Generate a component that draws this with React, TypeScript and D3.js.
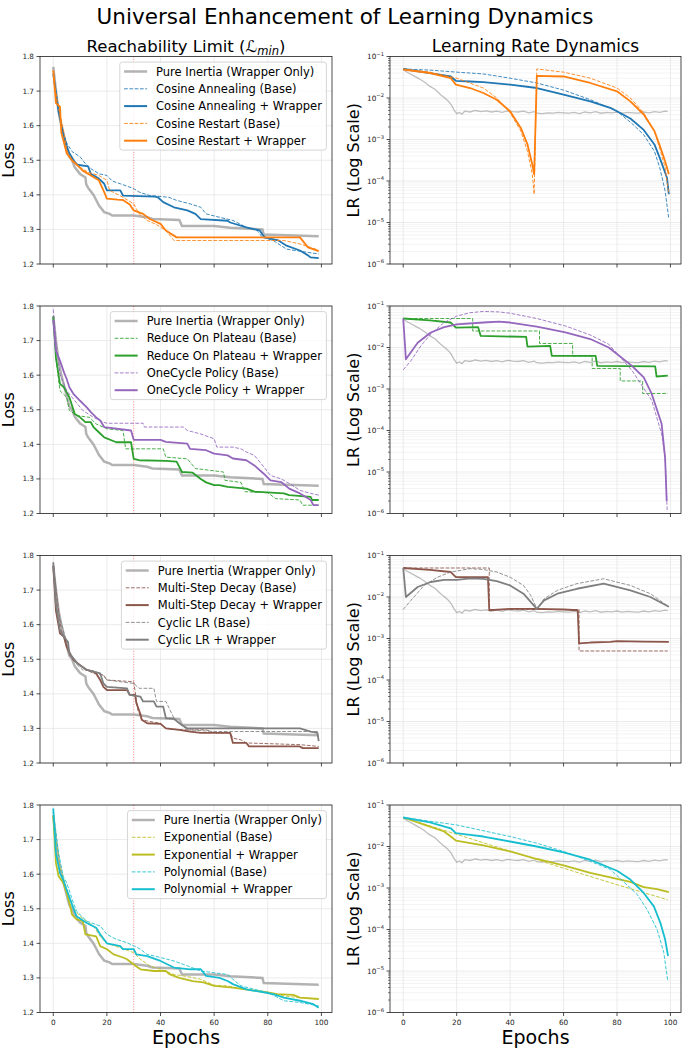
import * as d3 from "d3";

type Pt = [number, number];

// ---- axis ticks ----
const epochTicks = [0, 20, 40, 60, 80, 100];
const lossTicks = [1.2, 1.3, 1.4, 1.5, 1.6, 1.7, 1.8];
const lrTickExps = [-6, -5, -4, -3, -2, -1];
const rowLegendLabels = [
  ["Pure Inertia (Wrapper Only)", "Cosine Annealing (Base)", "Cosine Annealing + Wrapper", "Cosine Restart (Base)", "Cosine Restart + Wrapper"],
  ["Pure Inertia (Wrapper Only)", "Reduce On Plateau (Base)", "Reduce On Plateau + Wrapper", "OneCycle Policy (Base)", "OneCycle Policy + Wrapper"],
  ["Pure Inertia (Wrapper Only)", "Multi-Step Decay (Base)", "Multi-Step Decay + Wrapper", "Cyclic LR (Base)", "Cyclic LR + Wrapper"],
  ["Pure Inertia (Wrapper Only)", "Exponential (Base)", "Exponential + Wrapper", "Polynomial (Base)", "Polynomial + Wrapper"],
];
const rowColors = [
  ["#1f77b4", "#ff7f0e"],
  ["#2ca02c", "#9467bd"],
  ["#8c564b", "#7f7f7f"],
  ["#bcbd22", "#17becf"],
];

// ---- loss (reachability limit) ----
const pureLoss: Pt[] = [[0,1.77],[1,1.7],[2,1.64],[3,1.6],[4,1.57],[5,1.54],[6,1.51],[7,1.5],[8,1.48],[9,1.47],[10,1.46],[11,1.455],[12,1.45],[12.3,1.43],[13,1.42],[14,1.41],[15,1.4],[16,1.385],[17,1.37],[18,1.36],[19,1.35],[21,1.345],[22,1.34],[30,1.34],[35,1.335],[37,1.33],[47,1.327],[48,1.31],[60,1.31],[66,1.305],[78,1.3],[78.5,1.285],[99,1.28]];

const cosAnnBaseLoss: Pt[] = [[0,1.75],[2,1.64],[4,1.57],[5,1.55],[7,1.525],[10,1.51],[12,1.49],[14,1.476],[17,1.461],[20,1.456],[22,1.44],[25,1.432],[30,1.418],[32,1.408],[36,1.398],[43,1.393],[46,1.384],[51,1.374],[55,1.364],[57,1.345],[62,1.335],[67,1.326],[72,1.306],[76,1.297],[78,1.277],[82,1.268],[87,1.243],[92,1.237],[99,1.229]];
const cosAnnWrapLoss: Pt[] = [[0,1.75],[2,1.64],[3.7,1.578],[5,1.54],[6,1.52],[8,1.495],[9,1.487],[13,1.482],[14,1.461],[17,1.447],[19,1.432],[20,1.413],[25,1.413],[26,1.398],[38,1.395],[39,1.393],[41,1.379],[45,1.364],[50,1.355],[53,1.345],[55,1.33],[65,1.325],[66,1.32],[72,1.306],[77,1.297],[78,1.285],[79,1.277],[83,1.27],[84,1.268],[87,1.253],[92,1.239],[95,1.225],[96,1.219],[99,1.217]];
const cosResBaseLoss: Pt[] = [[0,1.74],[2,1.65],[4,1.58],[5,1.53],[7,1.5],[10,1.48],[13,1.465],[17,1.456],[20,1.442],[21,1.413],[26,1.393],[30,1.374],[32,1.345],[35,1.326],[38,1.316],[42,1.297],[45,1.268],[86,1.268],[92,1.258],[96,1.248],[99,1.24]];
const cosResWrapLoss: Pt[] = [[0,1.76],[1,1.665],[2.5,1.655],[3,1.58],[5,1.52],[7,1.5],[9,1.485],[11,1.47],[14,1.456],[17,1.442],[19,1.408],[20,1.389],[24,1.386],[26,1.385],[28.5,1.372],[30,1.355],[33.5,1.345],[36,1.33],[40,1.316],[42,1.297],[46,1.277],[92,1.277],[95,1.248],[99,1.237]];

const ropBaseLoss: Pt[] = [[0,1.77],[1,1.65],[2.5,1.555],[5,1.536],[6,1.498],[9,1.483],[13.5,1.478],[16,1.459],[20,1.445],[26,1.44],[27,1.387],[41,1.387],[42,1.363],[50,1.358],[53,1.33],[63.5,1.32],[64,1.296],[70,1.29],[71.5,1.263],[80,1.26],[83,1.243],[92,1.239],[93,1.224],[99,1.224]];
const ropWrapLoss: Pt[] = [[0,1.77],[1,1.65],[2.5,1.575],[4,1.565],[6,1.536],[8,1.488],[10,1.478],[12,1.464],[14,1.464],[15,1.45],[17,1.435],[19,1.42],[23.5,1.406],[29,1.406],[30,1.358],[32,1.354],[42,1.352],[46,1.35],[48,1.32],[52,1.318],[55,1.3],[57,1.29],[60,1.282],[62,1.282],[65,1.277],[72,1.272],[75,1.263],[86,1.258],[88,1.253],[96,1.248],[96.5,1.239],[99,1.239]];
const ocBaseLoss: Pt[] = [[0,1.79],[1,1.7],[2.5,1.603],[5,1.555],[7.5,1.531],[11,1.498],[15,1.478],[18.7,1.464],[20,1.461],[33.5,1.461],[34,1.45],[48.5,1.45],[50,1.44],[55,1.43],[60,1.416],[61,1.392],[67,1.392],[70,1.387],[72,1.378],[75,1.368],[78.5,1.335],[81,1.31],[85,1.3],[88,1.287],[92,1.267],[96,1.258],[99,1.253]];
const ocWrapLoss: Pt[] = [[0,1.76],[1,1.67],[2.5,1.642],[4,1.608],[5,1.589],[6,1.565],[7.5,1.546],[10,1.526],[12.5,1.507],[14,1.493],[16,1.478],[17.5,1.469],[19,1.45],[29,1.44],[30,1.413],[40,1.413],[42,1.407],[50,1.402],[51,1.387],[57,1.383],[60,1.373],[65,1.368],[67,1.359],[72,1.354],[75,1.339],[78.5,1.315],[81,1.296],[85,1.291],[88,1.272],[92,1.258],[96,1.239],[97,1.224],[99,1.224]];

const msBaseLoss: Pt[] = [[0,1.77],[2,1.64],[3,1.584],[4,1.565],[6,1.512],[9,1.488],[12.5,1.469],[15,1.459],[18.7,1.455],[20,1.44],[30,1.435],[31.5,1.354],[33,1.325],[36,1.32],[40,1.315],[42,1.3],[47,1.296],[57,1.296],[60,1.287],[66,1.287],[67,1.272],[70,1.267],[72,1.258],[92,1.253],[99,1.248]];
const msWrapLoss: Pt[] = [[0,1.77],[1,1.64],[2.5,1.575],[4,1.565],[5,1.536],[7.5,1.498],[10,1.483],[12.5,1.469],[15,1.464],[16,1.459],[17.5,1.44],[18.7,1.42],[20,1.411],[27.5,1.411],[28.5,1.397],[30.5,1.397],[31,1.373],[32.4,1.344],[33,1.325],[35,1.315],[40,1.313],[42,1.3],[47,1.296],[51,1.291],[55,1.287],[66,1.287],[67,1.258],[72,1.258],[73,1.248],[92,1.248],[93,1.243],[99,1.243]];
const cycBaseLoss: Pt[] = [[0,1.78],[2,1.632],[4,1.575],[6,1.517],[9,1.483],[11,1.469],[15,1.466],[17.5,1.459],[19,1.45],[20,1.44],[30,1.43],[32,1.416],[37.5,1.416],[38.5,1.378],[42,1.378],[43.5,1.354],[45,1.33],[47,1.315],[50,1.296],[60,1.291],[99,1.291]];
const cycWrapLoss: Pt[] = [[0,1.78],[1,1.66],[2.5,1.584],[4,1.565],[5.5,1.55],[6,1.517],[9,1.488],[12.5,1.469],[17.5,1.459],[18.7,1.43],[20,1.42],[27.5,1.416],[28.5,1.397],[32.5,1.392],[33.5,1.378],[37.5,1.378],[38.5,1.363],[41,1.363],[42,1.33],[45,1.328],[47,1.315],[50,1.3],[92,1.3],[96,1.291],[98.5,1.287],[99,1.263]];

const expBaseLoss: Pt[] = [[0,1.77],[1,1.7],[2.5,1.622],[5,1.555],[7.5,1.502],[10,1.478],[12.5,1.464],[15,1.45],[17.5,1.42],[20,1.4],[25,1.387],[30,1.373],[32.5,1.354],[36,1.335],[40,1.325],[45,1.31],[50,1.304],[55,1.296],[60,1.279],[65,1.277],[70,1.269],[75,1.263],[80,1.258],[86,1.248],[92,1.243],[99,1.239]];
const expWrapLoss: Pt[] = [[0,1.77],[1,1.632],[2,1.594],[3.7,1.575],[5,1.546],[6,1.517],[7,1.483],[8.7,1.469],[11,1.464],[12,1.426],[16,1.42],[17.5,1.392],[20,1.383],[22.5,1.368],[26,1.359],[27.5,1.354],[30,1.339],[32.5,1.325],[37.5,1.32],[42,1.32],[43.5,1.31],[47,1.3],[52,1.291],[56,1.287],[60,1.277],[67,1.272],[75,1.263],[80,1.258],[83.5,1.253],[89.5,1.251],[92,1.243],[99,1.239]];
const polyBaseLoss: Pt[] = [[0,1.78],[2,1.66],[3.7,1.594],[5,1.575],[7.5,1.517],[8.7,1.493],[12.5,1.464],[17.5,1.45],[20,1.426],[23.7,1.411],[27.5,1.402],[32.5,1.383],[35,1.368],[40,1.359],[45,1.349],[50,1.335],[55,1.32],[60,1.315],[65,1.31],[67,1.296],[70,1.277],[75,1.267],[80,1.258],[86,1.234],[92,1.229],[99,1.219]];
const polyWrapLoss: Pt[] = [[0,1.79],[1,1.66],[2.5,1.603],[3.7,1.584],[5,1.555],[7,1.512],[8.7,1.478],[12.5,1.459],[16,1.445],[17.5,1.426],[20,1.4],[25,1.392],[26,1.383],[30,1.383],[31,1.368],[35,1.363],[40,1.349],[45,1.33],[51,1.325],[55,1.325],[57,1.306],[62,1.3],[65,1.291],[67,1.282],[72,1.267],[78.5,1.258],[82,1.253],[86,1.243],[92,1.234],[97,1.224],[99,1.214]];

// ---- learning rate ----
const pureLR: Pt[] = [[0,0.048],[2,0.04],[4,0.034],[6,0.029],[8,0.024],[10,0.019],[12,0.016],[14,0.012],[16,0.0095],[17,0.0082],[18,0.0068],[19,0.0052],[20,0.0042],[21,0.0045],[22,0.0041],[23,0.0048],[25,0.0046],[27,0.005],[29,0.0047],[31,0.0049],[33,0.0046],[35,0.0048],[37,0.0045],[39,0.0049],[41,0.0047],[43,0.0046],[45,0.0048],[47,0.0044],[49,0.0047],[50,0.0043],[52,0.0042],[54,0.0044],[56,0.0043],[58,0.0045],[60,0.0044],[62,0.0043],[64,0.0045],[66,0.0042],[68,0.0046],[70,0.0044],[72,0.0047],[74,0.0043],[76,0.0045],[78,0.0044],[80,0.0046],[82,0.0043],[84,0.0045],[86,0.0044],[88,0.0043],[90,0.0046],[92,0.0044],[94,0.0047],[96,0.0045],[98,0.0048],[99,0.0047]];

const cosAnnBaseLR: Pt[] = [[0,0.05],[10,0.047],[20,0.042],[30,0.038],[40,0.03],[50,0.023],[60,0.0155],[70,0.0091],[80,0.0048],[86,0.0023],[90,0.0013],[94,0.00052],[96,0.00021],[98,0.000058],[99.4,0.000012]];
const cosAnnWrapLR: Pt[] = [[0,0.05],[10,0.04],[17.8,0.033],[19.7,0.026],[25,0.025],[30,0.024],[40,0.021],[50,0.0174],[60,0.012],[70,0.0083],[77.5,0.0058],[80,0.0048],[85,0.0032],[90,0.0017],[94,0.00076],[96,0.00036],[98.7,0.00012],[99.4,0.000048]];
const cosResBaseLR: Pt[] = [[0,0.05],[10,0.042],[20,0.03],[30,0.0174],[35,0.01],[40,0.0044],[44,0.0016],[46.5,0.00052],[48.3,0.000145],[49,0.000048],[50,0.05],[60,0.042],[70,0.03],[80,0.0174],[85,0.01],[90,0.0044],[94,0.0016],[96.3,0.00052],[98,0.00021],[99.4,0.000048]];
const cosResWrapLR: Pt[] = [[0,0.048],[10,0.04],[17.8,0.03],[19.7,0.021],[25,0.0174],[30,0.0132],[35,0.0091],[40,0.0048],[44,0.0019],[46.5,0.00076],[48.3,0.00025],[49,0.000145],[50,0.0343],[60,0.033],[70,0.023],[80,0.0145],[85,0.0083],[90,0.004],[94,0.0016],[96.3,0.00063],[98,0.0003],[99.4,0.000145]];

const ropBaseLR: Pt[] = [[0,0.05],[26,0.05],[26,0.025],[51,0.025],[51,0.0125],[63.4,0.0125],[63.4,0.00625],[70.7,0.00625],[70.7,0.003125],[81.2,0.003125],[81.2,0.0015625],[89.6,0.0015625],[89.6,0.00078],[99,0.00078]];
const ropWrapLR: Pt[] = [[0,0.05],[10,0.045],[17.8,0.04],[19.7,0.03],[28,0.031],[29,0.019],[46,0.018],[46.5,0.0105],[55,0.011],[55.6,0.0063],[72,0.0063],[72.6,0.0036],[94.3,0.0035],[94.8,0.002],[99,0.0021]];
const ocBaseLR: Pt[] = [[0,0.0029],[2.9,0.0048],[6.6,0.011],[10.3,0.021],[15.3,0.04],[20,0.057],[25,0.069],[30,0.074],[35.8,0.072],[40,0.067],[50,0.05],[60.7,0.033],[70,0.02],[76.9,0.012],[85.6,0.0028],[93,0.00053],[96.7,0.000083],[98,0.000023],[98.8,0.0000011]];
const ocWrapLR: Pt[] = [[0,0.05],[1,0.0052],[5.4,0.013],[10.3,0.023],[15.3,0.031],[20,0.036],[30,0.04],[35.8,0.042],[40,0.04],[50,0.032],[60.7,0.023],[70,0.016],[76.9,0.01],[85.6,0.0036],[90,0.0019],[93,0.00076],[96.7,0.000145],[98,0.000022],[98.6,0.000002]];

const msBaseLR: Pt[] = [[0,0.05],[32.2,0.05],[32.2,0.005],[65.8,0.005],[65.8,0.0005],[99,0.0005]];
const msWrapLR: Pt[] = [[0,0.05],[10,0.045],[17.8,0.04],[19.7,0.03],[31.7,0.03],[32.2,0.0048],[40,0.0052],[50,0.0052],[60,0.005],[65.3,0.0048],[65.8,0.00076],[70,0.0008],[77.5,0.00083],[80,0.00086],[90,0.00084],[99.4,0.00083]];
const cycBaseLR: Pt[] = [[0,0.005],[2.9,0.0083],[7.8,0.019],[12.8,0.03],[17.8,0.04],[25,0.048],[30,0.046],[35,0.04],[40,0.03],[45,0.019],[47.7,0.011],[50,0.0052],[52.7,0.009],[57.7,0.0145],[65,0.021],[75,0.0275],[85,0.019],[92.5,0.012],[99.4,0.0058]];
const cycWrapLR: Pt[] = [[0,0.05],[1,0.01],[5.4,0.0174],[10.3,0.023],[15.3,0.026],[20,0.026],[25,0.028],[30,0.0275],[35,0.024],[40,0.019],[45,0.012],[50,0.0052],[52.7,0.0083],[57.7,0.012],[65,0.0158],[75,0.021],[85,0.0145],[92.5,0.01],[99.4,0.0058]];

const expBaseLR: Pt[] = [[0,0.05],[20,0.0197],[40,0.0077],[60,0.003],[80,0.0012],[99,0.00052]];
const expWrapLR: Pt[] = [[0,0.05],[10,0.03],[15.3,0.023],[17.8,0.0174],[19.7,0.0139],[30,0.0106],[40,0.0076],[50,0.005],[60,0.0035],[70,0.0023],[80,0.00165],[85,0.0014],[90,0.00105],[95,0.00094],[99.4,0.0008]];
const polyBaseLR: Pt[] = [[0,0.05],[20,0.033],[40,0.0174],[50,0.012],[60,0.0076],[70,0.0044],[77.5,0.0028],[82.6,0.0014],[87.6,0.00069],[91.3,0.0003],[95,0.0001],[97.5,0.000028],[99,0.0000058]];
const polyWrapLR: Pt[] = [[0,0.05],[10,0.038],[17.8,0.0275],[19.7,0.021],[25,0.019],[30,0.0174],[40,0.0132],[50,0.01],[60,0.0072],[70,0.0048],[80,0.0026],[85,0.0016],[90,0.00076],[93.8,0.00036],[96.3,0.00014],[98,0.000058],[99.1,0.000023]];

const rowLoss = [
  [cosAnnBaseLoss, cosAnnWrapLoss, cosResBaseLoss, cosResWrapLoss],
  [ropBaseLoss, ropWrapLoss, ocBaseLoss, ocWrapLoss],
  [msBaseLoss, msWrapLoss, cycBaseLoss, cycWrapLoss],
  [expBaseLoss, expWrapLoss, polyBaseLoss, polyWrapLoss],
];
const rowLR = [
  [cosAnnBaseLR, cosAnnWrapLR, cosResBaseLR, cosResWrapLR],
  [ropBaseLR, ropWrapLR, ocBaseLR, ocWrapLR],
  [msBaseLR, msWrapLR, cycBaseLR, cycWrapLR],
  [expBaseLR, expWrapLR, polyBaseLR, polyWrapLR],
];

const FONT = "DejaVu Sans, Verdana, sans-serif";
const W = 690;
const H = 1052;
const LEFT = [40, 332];
const RIGHT = [390, 681];
const ROW_TOP = [56.5, 306, 555.5, 805];
const ROW_H = 207.5;
const TICK = "#222";
const GRID = "#e6e6e6";

let measureCtx: CanvasRenderingContext2D | null = null;
function textWidth(s: string, size: number) {
  if (!measureCtx) measureCtx = document.createElement("canvas").getContext("2d");
  if (!measureCtx) return s.length * size * 0.6;
  measureCtx.font = `${size}px ${FONT}`;
  return measureCtx.measureText(s).width;
}

function styleFor(k: number, colors: string[]) {
  // k: 0 base A, 1 wrap A, 2 base B, 3 wrap B
  const color = colors[k < 2 ? 0 : 1];
  const dashed = k % 2 === 0;
  return { color, dashed };
}

function LossPanel({ row }: { row: number }) {
  const top = ROW_TOP[row];
  const bottom = top + ROW_H;
  const x = d3.scaleLinear().domain([-4.95, 103.95]).range(LEFT);
  const y = d3.scaleLinear().domain([1.2, 1.8]).range([bottom, top]);
  const line = d3.line<Pt>().x((d) => x(d[0])).y((d) => y(d[1]));
  const clipId = `clipL${row}`;
  const colors = rowColors[row];
  const labels = rowLegendLabels[row];
  const last = row === 3;

  // legend geometry
  const fs = 11.5;
  const maxW = d3.max(labels, (s) => textWidth(s, fs)) ?? 160;
  const legW = 4.3 + 23 + 9 + maxW + 4.5;
  const legR = LEFT[1] - 5.6;
  const legT = top + 5.6;
  const legL = legR - legW;
  const legendItems = labels.map((lab, i) => {
    if (i === 0) return { lab, color: "gray", w: 2.5, dash: undefined as string | undefined, op: 0.6 };
    const { color, dashed } = styleFor(i - 1, colors);
    return { lab, color, w: dashed ? 1 : 2, dash: dashed ? "3.7,1.6" : undefined, op: dashed ? 0.85 : 1 };
  });

  return (
    <g>
      <defs>
        <clipPath id={clipId}>
          <rect x={LEFT[0]} y={top} width={LEFT[1] - LEFT[0]} height={ROW_H} />
        </clipPath>
      </defs>
      {epochTicks.map((t) => (
        <line key={"gx" + t} x1={x(t)} x2={x(t)} y1={top} y2={bottom} stroke={GRID} strokeWidth={0.8} />
      ))}
      {lossTicks.map((t) => (
        <line key={"gy" + t} x1={LEFT[0]} x2={LEFT[1]} y1={y(t)} y2={y(t)} stroke={GRID} strokeWidth={0.8} />
      ))}
      <g clipPath={`url(#${clipId})`}>
        <line x1={x(30)} x2={x(30)} y1={top} y2={bottom} stroke="red" strokeOpacity={0.5} strokeWidth={1} strokeDasharray="1,1.65" />
        <path d={line(pureLoss) ?? ""} fill="none" stroke="gray" strokeOpacity={0.6} strokeWidth={2.5} />
        {rowLoss[row].map((data, k) => {
          const { color, dashed } = styleFor(k, colors);
          return (
            <path
              key={k}
              d={line(data) ?? ""}
              fill="none"
              stroke={color}
              strokeWidth={dashed ? 1 : 1.8}
              strokeOpacity={dashed ? 0.85 : 1}
              strokeDasharray={dashed ? "3.7,1.6" : undefined}
              strokeLinejoin="round"
            />
          );
        })}
      </g>
      <rect x={LEFT[0]} y={top} width={LEFT[1] - LEFT[0]} height={ROW_H} fill="none" stroke="#222" strokeWidth={0.8} />
      {lossTicks.map((t) => (
        <g key={"ty" + t}>
          <line x1={LEFT[0] - 3.5} x2={LEFT[0]} y1={y(t)} y2={y(t)} stroke="#222" strokeWidth={0.8} />
          <text x={LEFT[0] - 6} y={y(t)} dy="0.35em" textAnchor="end" fontSize={7.3} fill={TICK} fontFamily={FONT}>
            {t.toFixed(1)}
          </text>
        </g>
      ))}
      {epochTicks.map((t) => (
        <g key={"tx" + t}>
          <line x1={x(t)} x2={x(t)} y1={bottom} y2={bottom + 3.5} stroke="#222" strokeWidth={0.8} />
          {last && (
            <text x={x(t)} y={bottom + 12.5} textAnchor="middle" fontSize={7.3} fill={TICK} fontFamily={FONT}>
              {t}
            </text>
          )}
        </g>
      ))}
      <text
        transform={`translate(14,${(top + bottom) / 2}) rotate(-90)`}
        textAnchor="middle"
        fontSize={16}
        fontFamily={FONT}
        fill="#000"
      >
        Loss
      </text>
      {/* legend */}
      <rect x={legL} y={legT} width={legW} height={88} rx={2.5} fill="white" fillOpacity={0.8} stroke="#cccccc" strokeWidth={0.8} />
      {legendItems.map((it, i) => {
        const cy = legT + 9.4 + i * 17.3;
        return (
          <g key={"lg" + i}>
            <line
              x1={legL + 4.3}
              x2={legL + 27.3}
              y1={cy}
              y2={cy}
              stroke={it.color}
              strokeOpacity={it.op}
              strokeWidth={it.w}
              strokeDasharray={it.dash}
            />
            <text x={legL + 36.3} y={cy} dy="0.36em" fontSize={fs} fontFamily={FONT} fill="#000">
              {it.lab}
            </text>
          </g>
        );
      })}
      {last && (
        <text x={(LEFT[0] + LEFT[1]) / 2} y={1044} textAnchor="middle" fontSize={19} fontFamily={FONT} fill="#000">
          Epochs
        </text>
      )}
    </g>
  );
}

function LRPanel({ row }: { row: number }) {
  const top = ROW_TOP[row];
  const bottom = top + ROW_H;
  const x = d3.scaleLinear().domain([-4.95, 103.95]).range(RIGHT);
  const y = d3.scaleLog().domain([1e-6, 1e-1]).range([bottom, top]);
  const line = d3.line<Pt>().x((d) => x(d[0])).y((d) => y(d[1]));
  const clipId = `clipR${row}`;
  const colors = rowColors[row];
  const last = row === 3;
  const minor: number[] = [];
  for (let e = -6; e < -1; e++) for (let m = 2; m <= 9; m++) minor.push(m * Math.pow(10, e));

  return (
    <g>
      <defs>
        <clipPath id={clipId}>
          <rect x={RIGHT[0]} y={top} width={RIGHT[1] - RIGHT[0]} height={ROW_H} />
        </clipPath>
      </defs>
      {minor.map((t, i) => (
        <line key={"gm" + i} x1={RIGHT[0]} x2={RIGHT[1]} y1={y(t)} y2={y(t)} stroke="#ececec" strokeWidth={0.6} />
      ))}
      {epochTicks.map((t) => (
        <line key={"gx" + t} x1={x(t)} x2={x(t)} y1={top} y2={bottom} stroke={GRID} strokeWidth={0.8} />
      ))}
      {lrTickExps.map((e) => (
        <line key={"gy" + e} x1={RIGHT[0]} x2={RIGHT[1]} y1={y(Math.pow(10, e))} y2={y(Math.pow(10, e))} stroke={GRID} strokeWidth={0.8} />
      ))}
      <g clipPath={`url(#${clipId})`}>
        <path d={line(pureLR) ?? ""} fill="none" stroke="gray" strokeOpacity={0.5} strokeWidth={1.3} />
        {rowLR[row].map((data, k) => {
          const { color, dashed } = styleFor(k, colors);
          return (
            <path
              key={k}
              d={line(data) ?? ""}
              fill="none"
              stroke={color}
              strokeWidth={dashed ? 1 : 1.8}
              strokeOpacity={dashed ? 0.85 : 1}
              strokeDasharray={dashed ? "3.7,1.6" : undefined}
              strokeLinejoin="round"
            />
          );
        })}
      </g>
      <rect x={RIGHT[0]} y={top} width={RIGHT[1] - RIGHT[0]} height={ROW_H} fill="none" stroke="#222" strokeWidth={0.8} />
      {minor.map((t, i) => (
        <line key={"mt" + i} x1={RIGHT[0] - 2} x2={RIGHT[0]} y1={y(t)} y2={y(t)} stroke="#222" strokeWidth={0.6} />
      ))}
      {lrTickExps.map((e) => {
        const yy = y(Math.pow(10, e));
        return (
          <g key={"ty" + e}>
            <line x1={RIGHT[0] - 3.5} x2={RIGHT[0]} y1={yy} y2={yy} stroke="#222" strokeWidth={0.8} />
            <text x={RIGHT[0] - 6} y={yy} dy="0.35em" textAnchor="end" fontSize={7.3} fill={TICK} fontFamily={FONT}>
              10
              <tspan fontSize={5.2} dy={-3.2}>
                {"\u2212" + Math.abs(e)}
              </tspan>
            </text>
          </g>
        );
      })}
      {epochTicks.map((t) => (
        <g key={"tx" + t}>
          <line x1={x(t)} x2={x(t)} y1={bottom} y2={bottom + 3.5} stroke="#222" strokeWidth={0.8} />
          {last && (
            <text x={x(t)} y={bottom + 12.5} textAnchor="middle" fontSize={7.3} fill={TICK} fontFamily={FONT}>
              {t}
            </text>
          )}
        </g>
      ))}
      <text
        transform={`translate(359,${(top + bottom) / 2}) rotate(-90)`}
        textAnchor="middle"
        fontSize={16}
        fontFamily={FONT}
        fill="#000"
      >
        LR (Log Scale)
      </text>
      {last && (
        <text x={(RIGHT[0] + RIGHT[1]) / 2} y={1044} textAnchor="middle" fontSize={19} fontFamily={FONT} fill="#000">
          Epochs
        </text>
      )}
    </g>
  );
}

export default function App() {
  return (
    <svg
      width={W}
      height={H}
      viewBox={`0 0 ${W} ${H}`}
      style={{ position: "absolute", left: 0, top: 0, background: "white" }}
    >
      <rect width={W} height={H} fill="white" />
      <text x={W / 2} y={23.5} textAnchor="middle" fontSize={21.5} fontFamily={FONT} fill="#000">
        Universal Enhancement of Learning Dynamics
      </text>
      <text x={(LEFT[0] + LEFT[1]) / 2} y={52} textAnchor="middle" fontSize={16.5} fontFamily={FONT} fill="#000">
        Reachability Limit (<tspan fontStyle="italic">ℒ</tspan>
        <tspan fontSize={11.5} fontStyle="italic" dy={3}>min</tspan>
        <tspan dy={-3}>)</tspan>
      </text>
      <text x={(RIGHT[0] + RIGHT[1]) / 2} y={52} textAnchor="middle" fontSize={17} fontFamily={FONT} fill="#000">
        Learning Rate Dynamics
      </text>
      {[0, 1, 2, 3].map((r) => (
        <g key={r}>
          <LossPanel row={r} />
          <LRPanel row={r} />
        </g>
      ))}
    </svg>
  );
}
